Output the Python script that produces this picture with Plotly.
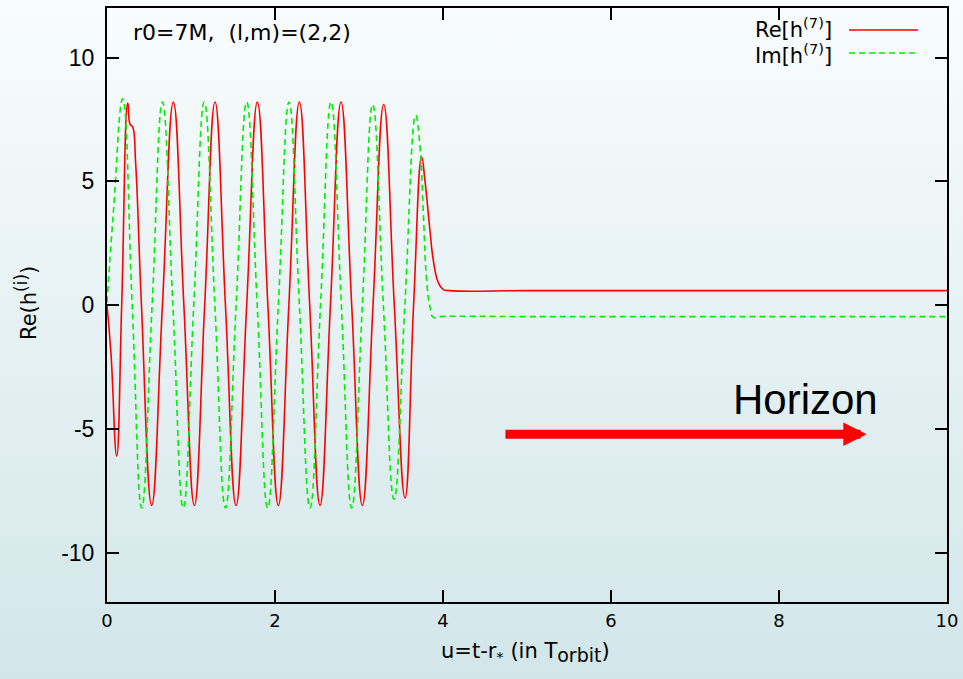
import base64
import plotly.graph_objects as go

# ---- data ----
re_x = [0, 0.048, 0.115, 0.175, 0.246, 0.275, 0.305, 0.34, 0.41, 0.532, 0.66, 0.79, 0.915,
        1.04, 1.163, 1.286, 1.41, 1.536, 1.663, 1.79, 1.915, 2.04, 2.165, 2.29, 2.413, 2.536,
        2.66, 2.786, 2.913, 3.04, 3.167, 3.294, 3.42, 3.548, 3.65, 3.746, 3.786, 3.845, 3.885,
        3.94, 4.0, 4.08, 5, 6, 7, 8, 9, 10]
re_y = [0, -2.0, -6.1, 0, 8.16, 7.3, 7.2, 5.8, 0, -8.1, 0, 8.2, 0,
        -8.1, 0, 8.2, 0, -8.1, 0, 8.2, 0, -8.1, 0, 8.2, 0, -8.1,
        0, 8.2, 0, -8.1, 0, 8.1, 0, -7.8, 0, 5.98, 5.0, 3.0, 1.8,
        0.94, 0.63, 0.58, 0.58, 0.58, 0.58, 0.58, 0.58, 0.58]

im_x = [0, 0.075, 0.187, 0.30, 0.413, 0.537, 0.66, 0.784, 0.908, 1.033, 1.158, 1.284, 1.41,
        1.537, 1.663, 1.788, 1.913, 2.04, 2.167, 2.29, 2.417, 2.542, 2.667, 2.79, 2.913,
        3.04, 3.163, 3.29, 3.417, 3.546, 3.675, 3.726, 3.766, 3.805, 3.845, 3.885, 3.96,
        5, 6, 7, 8, 9, 10]
im_y = [0.1, 3.7, 8.33, 0, -8.2, 0, 8.2, 0, -8.2, 0, 8.2, 0, -8.2,
        0, 8.2, 0, -8.2, 0, 8.2, 0, -8.2, 0, 8.2, 0, -8.2,
        0, 8.1, 0, -7.85, 0, 7.66, 6.4, 3.7, 1.0, -0.07, -0.5, -0.47,
        -0.47, -0.47, -0.47, -0.47, -0.47, -0.47]

x_ticks = [0, 2, 4, 6, 8, 10]
y_ticks = [-10, -5, 0, 5, 10]

arrow_tail = (4.726, -5.22)
arrow_head = (9.044, -5.22)

FONT = "Liberation Sans, Arial, sans-serif"
WIDE = "DejaVu Sans, sans-serif"
W, H = 963, 679
ML, MR, MT, MB = 107, 16, 8, 77
PW, PH = W - ML - MR, H - MT - MB

RED = "#ff0000"
GREEN = "#00ee00"

fig = go.Figure()
fig.add_trace(go.Scatter(x=re_x, y=re_y, mode="lines", name="Re",
                         line=dict(color=RED, width=1.6, shape="spline", smoothing=1.3),
                         showlegend=False))
fig.add_trace(go.Scatter(x=im_x, y=im_y, mode="lines", name="Im",
                         line=dict(color=GREEN, width=1.6, dash="6px,4px", shape="spline", smoothing=1.3),
                         showlegend=False))

svg = (f'<svg xmlns="http://www.w3.org/2000/svg" width="{W}" height="{H}" viewBox="0 0 {W} {H}" '
       'preserveAspectRatio="none"><defs><linearGradient id="g" x1="0" y1="0" x2="0" y2="1">'
       '<stop offset="0" stop-color="#f9fcfc"/><stop offset="1" stop-color="#d2e6ea"/>'
       f'</linearGradient></defs><rect width="{W}" height="{H}" fill="url(#g)"/></svg>')
src = "data:image/svg+xml;base64," + base64.b64encode(svg.encode()).decode()

def px(xp):
    return (xp - ML) / PW

def py(yp):
    return (H - MB - yp) / PH

fig.add_layout_image(dict(source=src, xref="paper", yref="paper", x=px(0), y=py(0),
                          sizex=W / PW, sizey=H / PH, xanchor="left", yanchor="top",
                          sizing="stretch", layer="below"))

ann = []
ann.append(dict(text="r0=7M,\u00a0\u00a0(l,m)=(2,2)", xref="paper", yref="paper", x=px(131), y=py(32),
                xanchor="left", yanchor="middle", showarrow=False,
                font=dict(size=22, color="black", family=WIDE)))
ann.append(dict(text="Re[h<sup>(7)</sup>]", xref="paper", yref="paper", x=px(834), y=py(28),
                xanchor="right", yanchor="middle", showarrow=False,
                font=dict(size=21, color="black", family=WIDE)))
ann.append(dict(text="Im[h<sup>(7)</sup>]", xref="paper", yref="paper", x=px(834), y=py(54),
                xanchor="right", yanchor="middle", showarrow=False,
                font=dict(size=21, color="black", family=WIDE)))
ann.append(dict(text="Horizon", xref="paper", yref="paper", x=px(805), y=py(399),
                xanchor="center", yanchor="middle", showarrow=False,
                font=dict(size=42, color="black", family=FONT)))
ann.append(dict(text="Re(h<sup><span style=\"font-size:17px\">(i)</span></sup>)",
                xref="paper", yref="paper", x=px(26), y=py(303),
                xanchor="center", yanchor="middle", textangle=-90, showarrow=False,
                font=dict(size=21, color="black", family=WIDE)))
ann.append(dict(text="u=t-r<sub>*</sub> (in T<sub><span style=\"font-size:19px\">orbit</span></sub>)",
                xref="paper", yref="paper",
                x=px(525), y=py(652), xanchor="center", yanchor="middle", showarrow=False,
                font=dict(size=21, color="black", family=WIDE)))
ann.append(dict(text="", x=arrow_head[0], y=arrow_head[1], xref="x", yref="y",
                ax=arrow_tail[0], ay=arrow_tail[1], axref="x", ayref="y",
                showarrow=True, arrowhead=2, arrowsize=0.52, arrowwidth=9, arrowcolor=RED,
                standoff=0))

shapes = [
    dict(type="line", xref="paper", yref="paper", x0=px(849), x1=px(918), y0=py(30), y1=py(30),
         line=dict(color=RED, width=1.6)),
    dict(type="line", xref="paper", yref="paper", x0=px(849), x1=px(918), y0=py(53), y1=py(53),
         line=dict(color=GREEN, width=1.6, dash="6px,4px")),
]

axis_common = dict(showline=True, mirror="ticks", linecolor="black", linewidth=2,
                   ticks="inside", ticklen=12, tickwidth=1.5, tickcolor="black",
                   showgrid=False, zeroline=False)

fig.update_layout(
    width=W, height=H,
    margin=dict(l=ML, r=MR, t=MT, b=MB, autoexpand=False),
    paper_bgcolor="#e6f1f3", plot_bgcolor="rgba(0,0,0,0)",
    font=dict(family=FONT, color="black"),
    showlegend=False,
    annotations=ann, shapes=shapes,
    xaxis=dict(range=[0, 10], tickvals=x_ticks, ticktext=[str(v) for v in x_ticks],
               tickfont=dict(size=18, family=WIDE), ticklabelstandoff=1, **axis_common),
    yaxis=dict(range=[-12, 12], tickvals=y_ticks, ticktext=[str(v) for v in y_ticks],
               tickfont=dict(size=23), ticklabelstandoff=6, **axis_common),
)

fig.write_html("out.html")
